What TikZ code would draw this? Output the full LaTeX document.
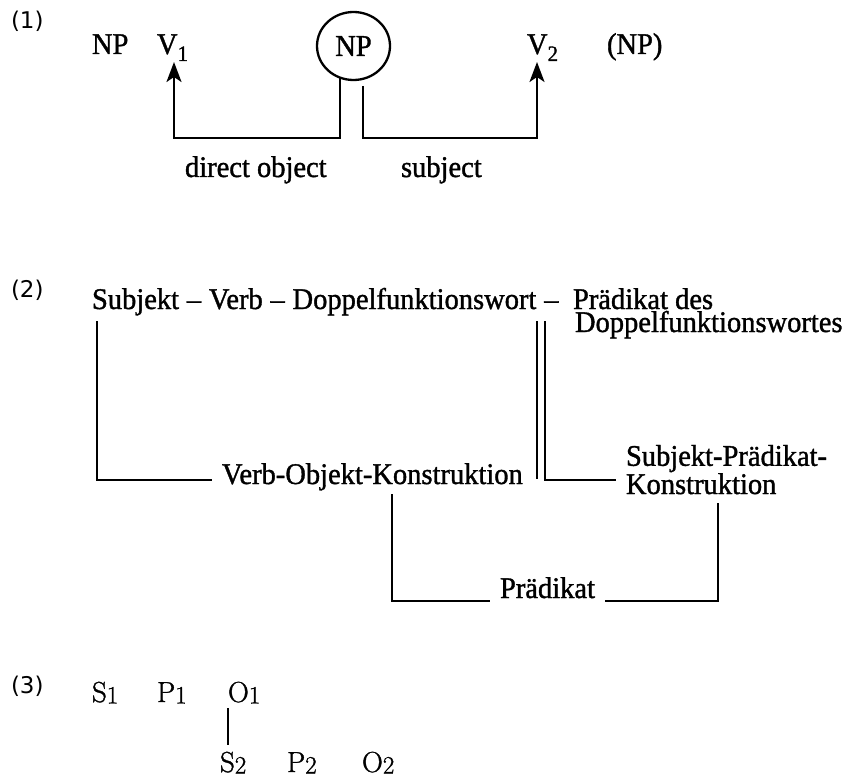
\documentclass[tikz,border=0pt]{standalone}
\usepackage{fontspec}
\newfontfamily\wordfont{Liberation Serif}[FakeBold=1.2, FakeStretch=0.95]
\newfontfamily\symfont{Latin Modern Roman}[FakeBold=1.2]
\newfontfamily\labelfont{DejaVu Sans}
\usetikzlibrary{arrows.meta,shapes.geometric}

% small lowered index digits
\newcommand{\lowidx}[3]{\raisebox{-#1}{\fontsize{#2}{#2}\selectfont #3}}

\begin{document}
\begin{tikzpicture}[x=1pt,y=-1pt,
  every node/.style={inner sep=0pt, outer sep=0pt},
  exlabel/.style={anchor=base west, font=\labelfont\fontsize{23}{25}\selectfont},
  word/.style={anchor=base west, font=\wordfont\fontsize{30}{30}\selectfont},
  sym/.style={anchor=base west, font=\symfont\fontsize{29}{32}\selectfont},
  link/.style={line width=2.3pt},
  arrowlink/.style={link, -{Stealth[length=20pt,width=15pt,inset=5pt]}},
  ringed/.style={draw, ellipse, line width=2.3pt, minimum width=73pt, minimum height=68pt,
                 font=\wordfont\fontsize{30}{30}\selectfont},
]
\useasboundingbox (0,0) rectangle (853,778);

% ---------- (1) ----------
\node[exlabel] (lab1) at (11,29) {(1)};
\node[word] (np1) at (92,54) {NP};
\node[word] (v1)  at (157,54) {V\lowidx{7pt}{22}{1}};
\node[ringed] (npc) at (353.5,46) {NP};
\node[word] (v2)  at (527,54) {V\lowidx{7pt}{22}{2}};
\node[word] (np3) at (607,54) {(NP)};
\node[word] (dobj) at (185,177) {direct object};
\node[word] (subj) at (401,177) {subject};

\coordinate (a1) at (340,78);
\coordinate (a2) at (363,86);
\coordinate (tip1) at (174,62);
\coordinate (tip2) at (537,62);
\coordinate (base1) at (0,138);
\draw[arrowlink] (a1) -- (a1 |- base1) -- (tip1 |- base1) -- (tip1);
\draw[arrowlink] (a2) -- (a2 |- base1) -- (tip2 |- base1) -- (tip2);

% ---------- (2) ----------
% (multi-line nodes are anchored at the baseline of their last line)
\node[exlabel] (lab2) at (11,297) {(2)};
\node[word] (top) at (92,309) {\spaceskip=7.8pt Subjekt – Verb – Doppelfunktionswort –};
\node[word, align=left, font=\wordfont\fontsize{30}{23}\selectfont] (topr) at (573,332)
  {Prädikat des\\\hspace*{2pt}Doppelfunktionswortes};
\node[word] (vok) at (222,484) {Verb-Objekt-Konstruktion};
\node[word, align=left, font=\wordfont\fontsize{30}{27}\selectfont] (spk) at (626,494)
  {Subjekt-Prädikat-\\Konstruktion};
\node[word] (praed) at (500,598) {Prädikat};

\coordinate (s0) at (97,321);
\coordinate (sv) at (212,480);
\coordinate (d1) at (537,321);
\coordinate (d2) at (545,321);
\coordinate (sp) at (616,480);
\coordinate (vo) at (392,494);
\coordinate (pl) at (490,601);
\coordinate (pr) at (605,601);
\coordinate (ko) at (718,503);

\draw[link] (s0) |- (sv);
\draw[link] (d1) -- (537,479);
\draw[link] (d2) |- (sp);
\draw[link] (vo) |- (pl);
\draw[link] (pr) -| (ko);

% ---------- (3) ----------
\node[exlabel] (lab3) at (11,693) {(3)};
\node[sym] (s1) at (92,702) {S\lowidx{1.5pt}{25}{1}};
\node[sym] (p1) at (157,702) {P\lowidx{1.5pt}{25}{1}};
\node[sym] (o1) at (228,702) {O\lowidx{1.5pt}{25}{1}};
\node[sym] (s2) at (220,772) {S\lowidx{1.5pt}{25}{2}};
\node[sym] (p2) at (287,772) {P\lowidx{1.5pt}{25}{2}};
\node[sym] (o2) at (362,772) {O\lowidx{1.5pt}{25}{2}};

\coordinate (o1b) at (228,708);
\coordinate (s2t) at (228,745);
\draw[line width=2pt] (o1b) -- (s2t);
\end{tikzpicture}
\end{document}
